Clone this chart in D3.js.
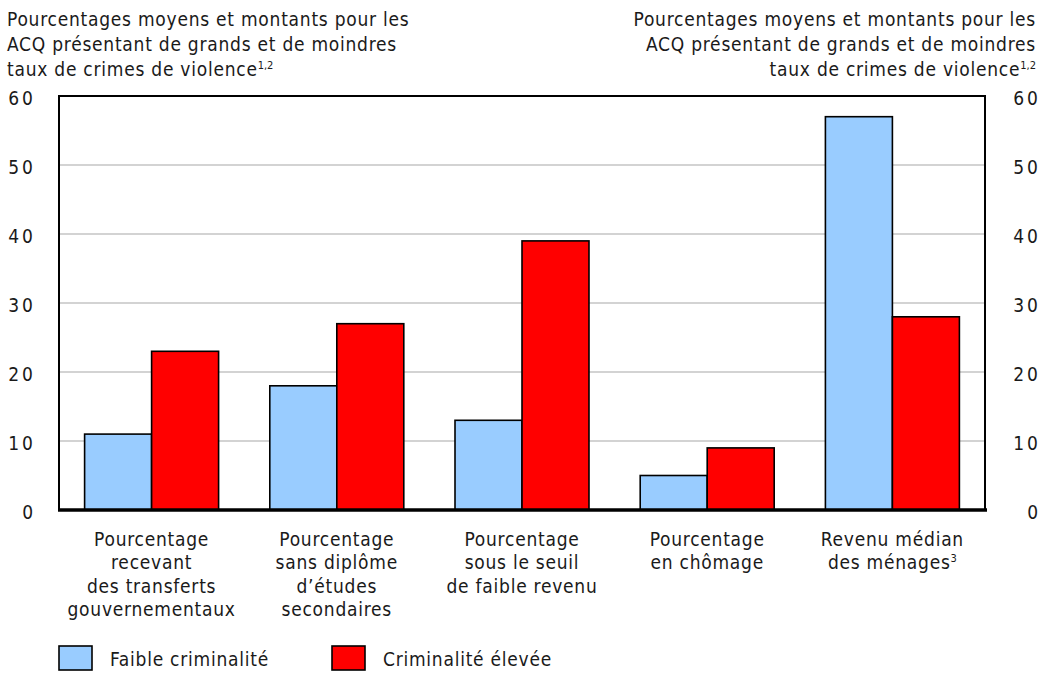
<!DOCTYPE html>
<html>
<head>
<meta charset="utf-8">
<script src="https://cdn.jsdelivr.net/npm/d3@7"></script>
<style>
  html, body { margin: 0; padding: 0; background: #fff; }
  svg { display: block; }
  text { font-family: "Liberation Sans Narrow", "DejaVu Sans Condensed", "Liberation Sans", sans-serif; fill: #1a1a1a; }
</style>
</head>
<body>
<svg id="chart" width="1044" height="673"></svg>
<script>
// ---- data ----
const categories = [
  ["Pourcentage", "recevant", "des transferts", "gouvernementaux"],
  ["Pourcentage", "sans diplôme", "d’études", "secondaires"],
  ["Pourcentage", "sous le seuil", "de faible revenu"],
  ["Pourcentage", "en chômage"],
  ["Revenu médian", "des ménages|3"]
];
const seriesNames = ["Faible criminalité", "Criminalité élevée"];
const faible = [11, 18, 13, 5, 57];
const elevee = [23, 27, 39, 9, 28];
const yTicks = [0, 10, 20, 30, 40, 50, 60];
const titleLines = ["Pourcentages moyens et montants pour les", "ACQ présentant de grands et de moindres", "taux de crimes de violence|1,2"];

(function () {
const colors = ["#99ccff", "#ff0000"];
const pL = 59, pR = 985, pT = 96, pB = 510;
const FS = 19, LS = "0.75px";

const svg = d3.select("#chart");
const catIdx = d3.range(categories.length);

const x0 = d3.scaleBand().domain(catIdx).range([pL, pR]).paddingInner(0.2765).paddingOuter(0.2765 / 2);
const x1 = d3.scaleBand().domain(d3.range(seriesNames.length)).range([0, x0.bandwidth()]);
const y = d3.scaleLinear().domain([0, 60]).range([pB, pT]);

// gridlines
svg.append("g").selectAll("line").data(yTicks.filter(d => d > 0 && d < 60)).join("line")
  .attr("x1", pL).attr("x2", pR).attr("y1", d => y(d)).attr("y2", d => y(d))
  .attr("stroke", "#c4c4c4").attr("stroke-width", 1.5);

// frame
svg.append("path")
  .attr("d", `M${pL},${pB}V${pT}H${pR}V${pB}`)
  .attr("fill", "none").attr("stroke", "#000").attr("stroke-width", 2);

// bars
const data = catIdx.map(i => [faible[i], elevee[i]]);
const groups = svg.append("g").selectAll("g").data(data).join("g")
  .attr("transform", (d, i) => `translate(${x0(i)},0)`);
groups.selectAll("rect").data(d => d.map((v, s) => ({ v, s }))).join("rect")
  .attr("x", d => x1(d.s)).attr("width", x1.bandwidth())
  .attr("y", d => y(d.v)).attr("height", d => y(0) - y(d.v))
  .attr("fill", d => colors[d.s]).attr("stroke", "#000").attr("stroke-width", 1.6);

// zero axis
svg.append("line").attr("x1", pL - 1).attr("x2", pR + 2).attr("y1", y(0)).attr("y2", y(0))
  .attr("stroke", "#000").attr("stroke-width", 3.5);

// y axes (labels only)
const axL = d3.axisLeft(y).tickValues(yTicks).tickSize(0).tickPadding(0);
const gL = svg.append("g").attr("transform", `translate(33,2)`).call(axL);
const axR = d3.axisRight(y).tickValues(yTicks).tickSize(0).tickPadding(0);
const gR = svg.append("g").attr("transform", `translate(1038,2)`).call(axR);
[gL, gR].forEach(g => {
  g.select(".domain").remove();
  g.selectAll("text").attr("font-size", FS).attr("letter-spacing", "3px")
    .attr("font-family", null).attr("fill", "#1a1a1a").attr("text-anchor", "end").attr("dx", "3px");
});

// helper: text with superscript via "|"
function addText(sel, str) {
  const [main, sup] = str.split("|");
  sel.append("tspan").text(main);
  if (sup) sel.append("tspan").text(sup).attr("font-size", 11).attr("dy", -7).attr("letter-spacing", "0px");
}

// titles
titleLines.forEach((t, i) => {
  const ty = [26, 51, 76][i];
  addText(svg.append("text").attr("x", 7).attr("y", ty).attr("font-size", FS).attr("letter-spacing", LS), t);
  addText(svg.append("text").attr("x", 1036).attr("y", ty).attr("text-anchor", "end").attr("font-size", FS).attr("letter-spacing", LS), t);
});

// category labels
catIdx.forEach(i => {
  const cx = x0(i) + x0.bandwidth() / 2;
  categories[i].forEach((line, j) => {
    addText(svg.append("text").attr("x", cx).attr("y", 546 + j * 23.4)
      .attr("text-anchor", "middle").attr("font-size", FS).attr("letter-spacing", LS), line);
  });
});

// legend
const legX = [59, 332];
seriesNames.forEach((name, s) => {
  svg.append("rect").attr("x", legX[s]).attr("y", 646).attr("width", 33).attr("height", 24)
    .attr("fill", colors[s]).attr("stroke", "#000").attr("stroke-width", 1.6);
  svg.append("text").attr("x", legX[s] + 51).attr("y", 666).attr("font-size", FS).attr("letter-spacing", LS).text(name);
});
})();
</script>
</body>
</html>
